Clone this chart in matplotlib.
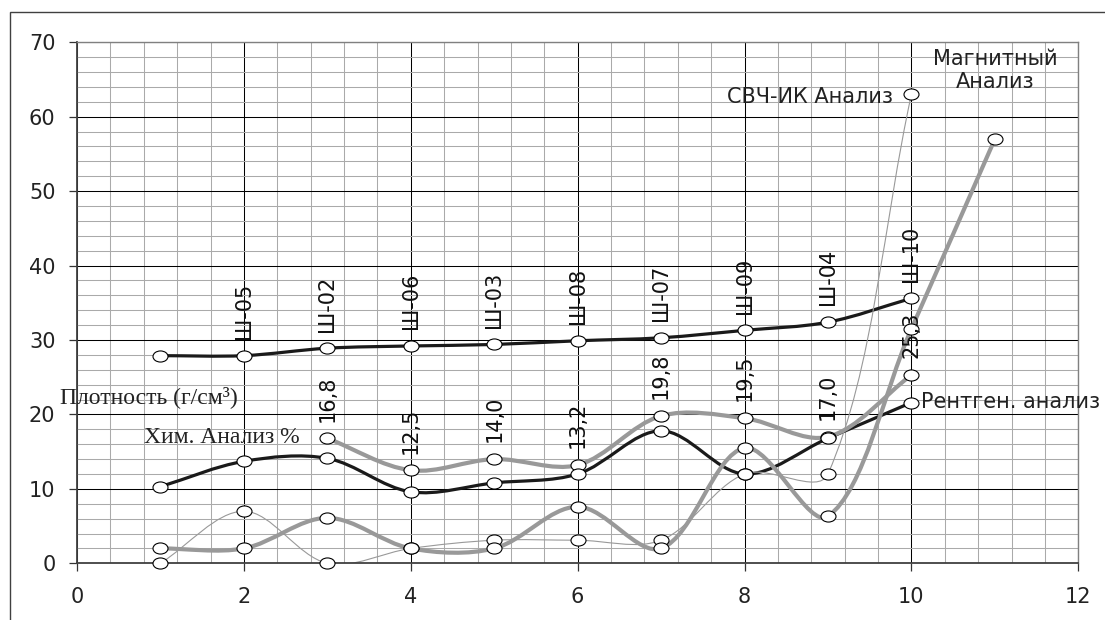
import numpy as np
import matplotlib
matplotlib.use("Agg")
import matplotlib.pyplot as plt
from matplotlib.path import Path
from matplotlib.patches import PathPatch, Rectangle
from matplotlib.ticker import MultipleLocator

# ---------------- data ----------------
x_density = [1, 2, 3, 4, 5, 6, 7, 8, 9, 10]
density = [27.9, 27.9, 28.9, 29.2, 29.4, 29.9, 30.3, 31.3, 32.4, 35.6]
sample_labels = ["", "Ш-05", "Ш-02", "Ш-06", "Ш-03", "Ш-08", "Ш-07", "Ш-09", "Ш-04", "Ш-10"]

x_xray = [1, 2, 3, 4, 5, 6, 7, 8, 9, 10]
xray = [10.3, 13.7, 14.1, 9.6, 10.8, 12.0, 17.8, 12.0, 16.8, 21.6]

x_chem = [3, 4, 5, 6, 7, 8, 9, 10]
chem = [16.8, 12.5, 14.0, 13.2, 19.8, 19.5, 17.0, 25.3]

x_magn = [1, 2, 3, 4, 5, 6, 7, 8, 9, 10, 11]
magn = [2.0, 2.0, 6.1, 2.0, 2.0, 7.6, 2.0, 15.5, 6.3, 31.5, 57.0]

x_svch = [1, 2, 3, 4, 5, 6, 7, 8, 9, 10]
svch = [0.0, 7.0, 0.0, 2.0, 3.1, 3.1, 3.1, 12.0, 12.0, 63.0]

x_ticks = [0, 2, 4, 6, 8, 10, 12]
y_ticks = [0, 10, 20, 30, 40, 50, 60, 70]

# ---------------- style ----------------
plt.rcParams["font.family"] = ["DejaVu Sans"]
BLACK = "#1a1a1a"
GREY = "#999999"
SANS = ["DejaVu Sans"]
SERIF = ["Liberation Serif", "DejaVu Serif"]

fig = plt.figure(figsize=(11.05, 6.2), dpi=100)
ax = fig.add_axes([77 / 1105, 1 - 563.3 / 620, (1078.3 - 77) / 1105, (563.3 - 42.3) / 620])

# outer frame (only left/top visible)
fig.patches.append(Rectangle((10 / 1105, -0.2), 1.5, 1.2 - 12 / 620, transform=fig.transFigure,
                             fill=False, edgecolor="#404040", lw=1.0))

ax.set_xlim(0, 12)
ax.set_ylim(0, 70)
ax.set_xticks(x_ticks)
ax.set_yticks(y_ticks)
ax.xaxis.set_minor_locator(MultipleLocator(0.4))
ax.yaxis.set_minor_locator(MultipleLocator(2))
ax.grid(which="minor", color="#aaaaaa", lw=0.75)
ax.grid(which="major", color="#000000", lw=0.75)
ax.tick_params(which="minor", length=0)
ax.tick_params(which="major", direction="out", length=5.5, width=0.9, color="#333333",
               labelsize=15, labelcolor="#222222")
ax.tick_params(axis="y", pad=10)
ax.tick_params(axis="x", pad=11.5)
for s in ("left", "bottom"):
    ax.spines[s].set_color("#404040")
    ax.spines[s].set_linewidth(1.3)
for s in ("top", "right"):
    ax.spines[s].set_color("#808080")
    ax.spines[s].set_linewidth(1.0)


def smooth_path(xs, ys):
    """Excel-like smoothed line: Bezier whose control arms scale with segment lengths
    (computed in display space, then mapped back to data space)."""
    pts = ax.transData.transform(np.column_stack([np.asarray(xs, float), np.asarray(ys, float)]))
    n = len(pts)
    verts = [pts[0]]
    codes = [Path.MOVETO]
    t = 1.0 / 3.0
    for i in range(n - 1):
        p0 = pts[i - 1] if i > 0 else pts[i]
        p1 = pts[i]
        p2 = pts[i + 1]
        p3 = pts[i + 2] if i + 2 < n else pts[i + 1]
        d01 = np.hypot(*(p1 - p0))
        d12 = np.hypot(*(p2 - p1))
        d23 = np.hypot(*(p3 - p2))
        c1 = p1 + t * d12 / (d01 + d12) * (p2 - p0)
        c2 = p2 - t * d12 / (d12 + d23) * (p3 - p1)
        verts += [c1, c2, p2]
        codes += [Path.CURVE4] * 3
    verts = ax.transData.inverted().transform(np.array(verts))
    return Path(verts, codes)


series = [
    (x_xray, xray, BLACK, 2.3),
    (x_density, density, BLACK, 2.3),
    (x_chem, chem, GREY, 3.0),
    (x_svch, svch, GREY, 0.8),
    (x_magn, magn, GREY, 3.0),
]
for xs, ys, col, lw in series:
    ax.add_patch(PathPatch(smooth_path(xs, ys), fill=False, edgecolor=col, lw=lw,
                           capstyle="round", joinstyle="round", zorder=2))

circ = Path.unit_circle()
ell = Path(circ.vertices * np.array([1.0, 0.74]), circ.codes)
marker_order = [(x_svch, svch), (x_chem, chem), (x_magn, magn), (x_xray, xray), (x_density, density)]
for k, (xs, ys) in enumerate(marker_order):
    ax.plot(xs, ys, linestyle="none", marker=ell, markersize=10.8, markerfacecolor="white",
            markeredgecolor="black", markeredgewidth=0.8, clip_on=False, zorder=4 + k * 0.01)

# sample labels above density points
for xv, yv, lab in zip(x_density, density, sample_labels):
    if lab:
        ax.annotate(lab, (xv, yv), xytext=(0, 12), textcoords="offset points", rotation=90,
                    ha="center", va="bottom", fontsize=15, color="#111111", family=SANS,
                    zorder=6, annotation_clip=False)

# value labels above chem points
for xv, yv in zip(x_chem, chem):
    ax.annotate(f"{yv:.1f}".replace(".", ","), (xv, yv), xytext=(0, 12), textcoords="offset points",
                rotation=90, ha="center", va="bottom", fontsize=15, color="#111111", family=SANS,
                zorder=6, annotation_clip=False)

# series names
ax.text(-0.2, 21.6, "Плотность (г/см³)", fontsize=17, family=SERIF, color="#222222",
        ha="left", va="baseline", clip_on=False, zorder=6)
ax.text(2.67, 16.1, "Хим. Анализ %", fontsize=17, family=SERIF, color="#222222",
        ha="right", va="baseline", clip_on=False, zorder=6)
ax.text(9.78, 61.9, "СВЧ-ИК Анализ", fontsize=15, family=SANS, color="#222222",
        ha="right", va="baseline", clip_on=False, zorder=6)
ax.text(11.0, 63.9, "Магнитный\nАнализ", fontsize=15, family=SANS, color="#222222",
        ha="center", va="baseline", multialignment="center", linespacing=1.15,
        clip_on=False, zorder=6)
ax.text(10.11, 20.8, "Рентген. анализ", fontsize=15, family=SANS, color="#222222",
        ha="left", va="baseline", clip_on=False, zorder=6)

fig.savefig("out.png", dpi=100)
